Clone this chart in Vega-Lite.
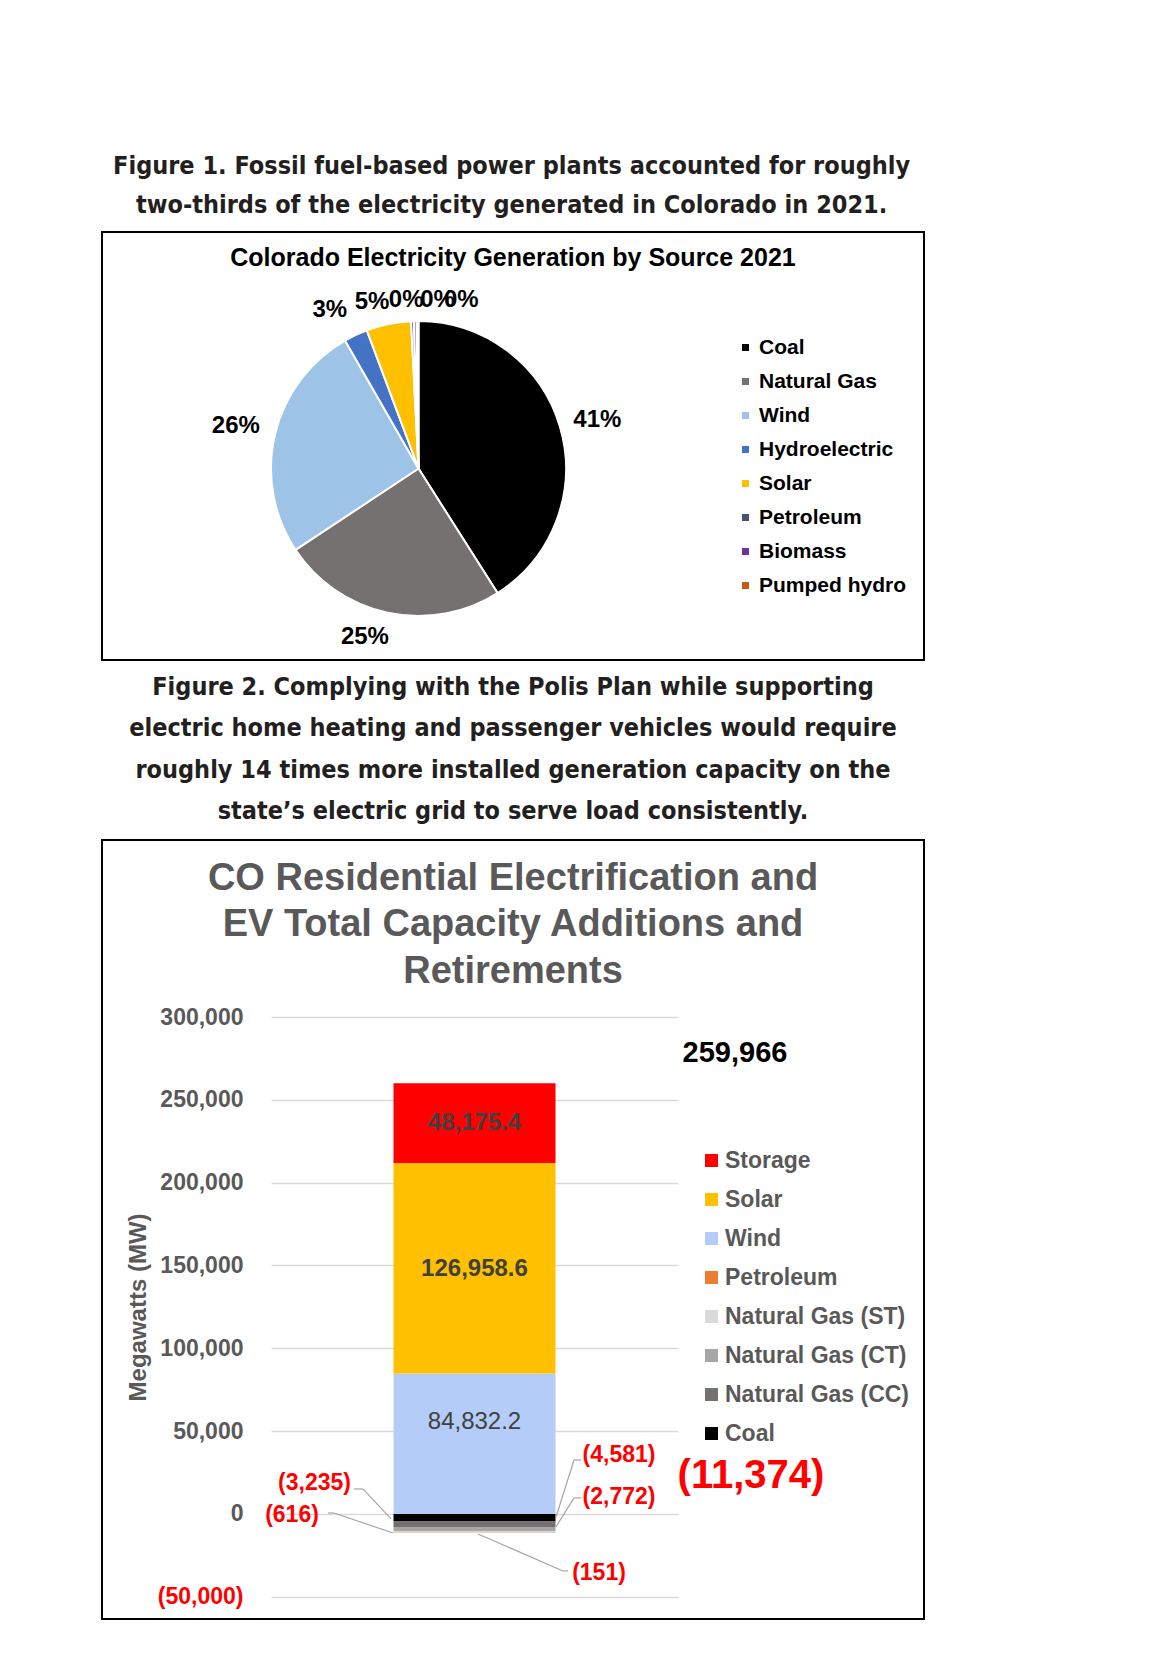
{
  "$schema": "https://vega.github.io/schema/vega-lite/v6.json",
  "padding": {"left": 98, "top": 153, "right": 20, "bottom": 10},
  "background": "#ffffff",
  "spacing": 5,
  "datasets": {
    "pie": [
      {"source": "Coal", "share": 0.41, "ord": 1},
      {"source": "Natural Gas", "share": 0.247, "ord": 2},
      {"source": "Wind", "share": 0.26, "ord": 3},
      {"source": "Hydroelectric", "share": 0.026, "ord": 4},
      {"source": "Solar", "share": 0.049, "ord": 5},
      {"source": "Petroleum", "share": 0.003, "ord": 6},
      {"source": "Biomass", "share": 0.003, "ord": 7},
      {"source": "Pumped hydro", "share": 0.002, "ord": 8}
    ],
    "bars": [
      {"category": "CO", "series": "Coal", "mw": -4581, "ord": 1},
      {"category": "CO", "series": "Natural Gas (CC)", "mw": -3235, "ord": 2},
      {"category": "CO", "series": "Natural Gas (CT)", "mw": -2772, "ord": 3},
      {"category": "CO", "series": "Natural Gas (ST)", "mw": -616, "ord": 4},
      {"category": "CO", "series": "Petroleum", "mw": -151, "ord": 5},
      {"category": "CO", "series": "Wind", "mw": 84832.2, "ord": 6},
      {"category": "CO", "series": "Solar", "mw": 126958.6, "ord": 7},
      {"category": "CO", "series": "Storage", "mw": 48175.4, "ord": 8}
    ],
    "totals": [
      {"category": "CO", "kind": "Additions", "mw": 259966},
      {"category": "CO", "kind": "Retirements", "mw": -11374}
    ]
  },
  "resolve": {"scale": {"color": "independent", "theta": "independent"}, "legend": {"color": "independent"}},
  "config": {
    "view": {"stroke": "#000000", "strokeWidth": 2},
    "font": "Liberation Sans",
    "axisY": {
      "labelExpr": "datum.value < 0 ? '(' + format(-datum.value, ',') + ')' : format(datum.value, ',')",
      "labelFont": "Liberation Sans", "labelFontSize": 23, "labelFontWeight": "bold",
      "ticks": false, "domain": false, "labelPadding": 0, "labelOverlap": false,
      "gridColor": "#D9D9D9", "gridWidth": 1.5,
      "titleFont": "Liberation Sans", "titleFontSize": 24, "titleFontWeight": "bold",
      "titleColor": "#595959", "titlePadding": 7
    }
  },
  "vconcat": [
    {
      "title": {
        "text": ["Figure 1. Fossil fuel-based power plants accounted for roughly", "two-thirds of the electricity generated in Colorado in 2021."],
        "font": "DejaVu Sans Condensed, DejaVu Sans, sans-serif", "fontSize": 25, "fontWeight": "bold", "color": "#231F20",
        "lineHeight": 39, "anchor": "middle", "frame": "bounds", "baseline": "top", "offset": 10.5
      },
      "vconcat": [
        {
          "width": 822,
          "height": 428,
          "view": {"stroke": "#000000", "strokeWidth": 2},
          "title": {
            "text": "Colorado Electricity Generation by Source 2021",
            "font": "Liberation Sans", "fontSize": 25, "fontWeight": "bold", "color": "#000000",
            "anchor": "middle", "frame": "group", "baseline": "top", "offset": -42
          },
          "data": {"name": "pie"},
          "layer": [
            {
              "mark": {"type": "point", "opacity": 0},
              "encoding": {
                "x": {"datum": 0, "type": "quantitative", "axis": null},
                "y": {"datum": 0, "type": "quantitative", "axis": null}
              }
            },
            {
              "mark": {"type": "arc", "x": 316.5, "y": 236.5, "outerRadius": 147.5, "stroke": "#ffffff", "strokeWidth": 2},
              "encoding": {
                "theta": {"field": "share", "type": "quantitative", "stack": true},
                "order": {"field": "ord", "type": "quantitative"},
                "color": {
                  "field": "source", "type": "nominal",
                  "scale": {
                    "domain": ["Coal", "Natural Gas", "Wind", "Hydroelectric", "Solar", "Petroleum", "Biomass", "Pumped hydro"],
                    "range": ["#000000", "#767171", "#9DC3E6", "#4472C4", "#FFC000", "#44546A", "#7030A0", "#C55A11"]
                  },
                  "legend": {
                    "orient": "none", "legendX": 633, "legendY": 105, "title": null,
                    "symbolType": "square", "symbolSize": 49, "symbolStrokeWidth": 0,
                    "labelFont": "Liberation Sans", "labelFontSize": 21, "labelFontWeight": "bold", "labelColor": "#000000",
                    "rowPadding": 12, "labelOffset": 3, "padding": 0
                  }
                }
              }
            },
            {
              "mark": {"type": "text", "x": 316.5, "y": 236.5, "radius": 180, "dx": 6, "dy": 2, "fontSize": 24, "fontWeight": "bold", "color": "#000000", "baseline": "middle", "align": "center"},
              "encoding": {
                "theta": {"field": "share", "type": "quantitative", "stack": true},
                "order": {"field": "ord", "type": "quantitative"},
                "text": {"condition": {"test": "datum.source === 'Coal'", "field": "share", "type": "quantitative", "format": ".0%"}, "value": ""}
              }
            },
            {
              "mark": {"type": "text", "x": 316.5, "y": 236.5, "radius": 180, "dx": -16, "dy": -7.5, "fontSize": 24, "fontWeight": "bold", "color": "#000000", "baseline": "middle", "align": "center"},
              "encoding": {
                "theta": {"field": "share", "type": "quantitative", "stack": true},
                "order": {"field": "ord", "type": "quantitative"},
                "text": {"condition": {"test": "datum.source === 'Natural Gas'", "field": "share", "type": "quantitative", "format": ".0%"}, "value": ""}
              }
            },
            {
              "mark": {"type": "text", "x": 316.5, "y": 236.5, "radius": 180, "dx": -7.5, "dy": -1.5, "fontSize": 24, "fontWeight": "bold", "color": "#000000", "baseline": "middle", "align": "center"},
              "encoding": {
                "theta": {"field": "share", "type": "quantitative", "stack": true},
                "order": {"field": "ord", "type": "quantitative"},
                "text": {"condition": {"test": "datum.source === 'Wind'", "field": "share", "type": "quantitative", "format": ".0%"}, "value": ""}
              }
            },
            {
              "mark": {"type": "text", "x": 316.5, "y": 236.5, "radius": 180, "dx": -12, "dy": 4.5, "fontSize": 24, "fontWeight": "bold", "color": "#000000", "baseline": "middle", "align": "center"},
              "encoding": {
                "theta": {"field": "share", "type": "quantitative", "stack": true},
                "order": {"field": "ord", "type": "quantitative"},
                "text": {"condition": {"test": "datum.source === 'Hydroelectric'", "field": "share", "type": "quantitative", "format": ".0%"}, "value": ""}
              }
            },
            {
              "mark": {"type": "text", "x": 316.5, "y": 236.5, "radius": 180, "dx": -10, "dy": 10, "fontSize": 24, "fontWeight": "bold", "color": "#000000", "baseline": "middle", "align": "center"},
              "encoding": {
                "theta": {"field": "share", "type": "quantitative", "stack": true},
                "order": {"field": "ord", "type": "quantitative"},
                "text": {"condition": {"test": "datum.source === 'Solar'", "field": "share", "type": "quantitative", "format": ".0%"}, "value": ""}
              }
            },
            {
              "mark": {"type": "text", "x": 316.5, "y": 236.5, "radius": 180, "dx": -5, "dy": 11, "fontSize": 24, "fontWeight": "bold", "color": "#000000", "baseline": "middle", "align": "center"},
              "encoding": {
                "theta": {"field": "share", "type": "quantitative", "stack": true},
                "order": {"field": "ord", "type": "quantitative"},
                "text": {"condition": {"test": "datum.source === 'Petroleum'", "field": "share", "type": "quantitative", "format": ".0%"}, "value": ""}
              }
            },
            {
              "mark": {"type": "text", "x": 316.5, "y": 236.5, "radius": 180, "dx": 23, "dy": 11, "fontSize": 24, "fontWeight": "bold", "color": "#000000", "baseline": "middle", "align": "center"},
              "encoding": {
                "theta": {"field": "share", "type": "quantitative", "stack": true},
                "order": {"field": "ord", "type": "quantitative"},
                "text": {"condition": {"test": "datum.source === 'Biomass'", "field": "share", "type": "quantitative", "format": ".0%"}, "value": ""}
              }
            },
            {
              "mark": {"type": "text", "x": 316.5, "y": 236.5, "radius": 180, "dx": 44, "dy": 11, "fontSize": 24, "fontWeight": "bold", "color": "#000000", "baseline": "middle", "align": "center"},
              "encoding": {
                "theta": {"field": "share", "type": "quantitative", "stack": true},
                "order": {"field": "ord", "type": "quantitative"},
                "text": {"condition": {"test": "datum.source === 'Pumped hydro'", "field": "share", "type": "quantitative", "format": ".0%"}, "value": ""}
              }
            }
          ]
        }
      ]
    },
    {
      "title": {
        "text": ["Figure 2. Complying with the Polis Plan while supporting", "electric home heating and passenger vehicles would require", "roughly 14 times more installed generation capacity on the", "state\u2019s electric grid to serve load consistently."],
        "font": "DejaVu Sans Condensed, DejaVu Sans, sans-serif", "fontSize": 25, "fontWeight": "bold", "color": "#231F20",
        "lineHeight": 41.5, "anchor": "middle", "frame": "bounds", "baseline": "top", "offset": 14.6
      },
      "vconcat": [
        {
          "width": 822,
          "height": 779,
          "title": {
            "text": ["CO Residential Electrification and", "EV Total Capacity Additions and", "Retirements"],
            "font": "Liberation Sans", "fontSize": 38, "fontWeight": "bold", "color": "#595959",
            "lineHeight": 46.5, "anchor": "middle", "frame": "group", "baseline": "top", "offset": -150.6
          },
          "data": {"name": "bars"},
          "resolve": {"axis": {"y": "independent"}},
          "layer": [
            {
              "mark": {"type": "bar"},
              "encoding": {
                "x": {"field": "category", "type": "nominal", "axis": null, "scale": {"range": [169, 576], "paddingInner": 0, "paddingOuter": 0.756}},
                "y": {
                  "field": "mw", "type": "quantitative", "stack": "zero",
                  "scale": {"domain": [-50000, 300000], "range": [756.8, 177], "nice": false, "zero": false},
                  "axis": {
                    "orient": "left", "values": [-50000, 0, 50000, 100000, 150000, 200000, 250000, 300000],
                    "grid": true, "labels": false, "ticks": false, "domain": false, "title": null, "offset": 0
                  }
                },
                "color": {
                  "field": "series", "type": "nominal",
                  "scale": {
                    "domain": ["Storage", "Solar", "Wind", "Petroleum", "Natural Gas (ST)", "Natural Gas (CT)", "Natural Gas (CC)", "Coal"],
                    "range": ["#FF0000", "#FFC000", "#B4CDF8", "#ED7D31", "#D9D9D9", "#A6A6A6", "#767171", "#000000"]
                  },
                  "legend": {
                    "orient": "none", "legendX": 598, "legendY": 309, "title": null,
                    "symbolType": "square", "symbolSize": 169, "symbolStrokeWidth": 0,
                    "labelFont": "Liberation Sans", "labelFontSize": 23, "labelFontWeight": "bold", "labelColor": "#595959",
                    "labelLimit": 300, "rowPadding": 15, "labelOffset": 2, "padding": 0
                  }
                },
                "order": {"field": "ord", "type": "quantitative"}
              }
            },
            {
              "transform": [
                {"stack": "mw", "groupby": ["category"], "sort": [{"field": "ord", "order": "ascending"}], "as": ["y0", "y1"]},
                {"filter": "datum.series === 'Storage'"}
              ],
              "mark": {"type": "text", "dy": 40, "fontSize": 24, "fontWeight": "bold", "color": "#404040", "baseline": "middle", "align": "center"},
              "encoding": {
                "x": {"field": "category", "type": "nominal", "axis": null, "scale": {"range": [169, 576], "paddingInner": 0, "paddingOuter": 0.756}},
                "y": {
                  "field": "y1", "type": "quantitative",
                  "scale": {"domain": [-50000, 300000], "range": [756.8, 177], "nice": false, "zero": false},
                  "axis": {
                    "orient": "left", "values": [-50000, 0, 50000, 100000, 150000, 200000, 250000, 300000],
                    "grid": false, "offset": -141, "title": "Megawatts (MW)",
                    "labelColor": {"condition": {"test": "datum.value < 0", "value": "#FF0000"}, "value": "#595959"}
                  }
                },
                "text": {"field": "mw", "type": "quantitative", "format": ",.1f"}
              }
            },
            {
              "transform": [
                {"stack": "mw", "groupby": ["category"], "sort": [{"field": "ord", "order": "ascending"}], "as": ["y0", "y1"]},
                {"filter": "datum.series === 'Solar'"}
              ],
              "mark": {"type": "text", "dy": 106, "fontSize": 24, "fontWeight": "bold", "color": "#404040", "baseline": "middle", "align": "center"},
              "encoding": {
                "x": {"field": "category", "type": "nominal", "axis": null, "scale": {"range": [169, 576], "paddingInner": 0, "paddingOuter": 0.756}},
                "y": {"field": "y1", "type": "quantitative", "axis": null, "scale": {"domain": [-50000, 300000], "range": [756.8, 177], "nice": false, "zero": false}},
                "text": {"field": "mw", "type": "quantitative", "format": ",.1f"}
              }
            },
            {
              "transform": [
                {"stack": "mw", "groupby": ["category"], "sort": [{"field": "ord", "order": "ascending"}], "as": ["y0", "y1"]},
                {"filter": "datum.series === 'Wind'"}
              ],
              "mark": {"type": "text", "dy": 49, "fontSize": 24, "fontWeight": "normal", "color": "#404040", "baseline": "middle", "align": "center"},
              "encoding": {
                "x": {"field": "category", "type": "nominal", "axis": null, "scale": {"range": [169, 576], "paddingInner": 0, "paddingOuter": 0.756}},
                "y": {"field": "y1", "type": "quantitative", "axis": null, "scale": {"domain": [-50000, 300000], "range": [756.8, 177], "nice": false, "zero": false}},
                "text": {"field": "mw", "type": "quantitative", "format": ",.1f"}
              }
            },
            {
              "transform": [
                {"stack": "mw", "groupby": ["category"], "sort": [{"field": "ord", "order": "ascending"}], "as": ["y0", "y1"]},
                {"filter": "datum.series === 'Coal'"}
              ],
              "encoding": {
                "x": {"field": "category", "type": "nominal", "axis": null, "bandPosition": 0.5, "scale": {"range": [169, 576], "paddingInner": 0, "paddingOuter": 0.756}},
                "x2": {"field": "category", "bandPosition": 0.5},
                "y": {"field": "y0", "type": "quantitative", "axis": null, "scale": {"domain": [-50000, 300000], "range": [756.8, 177], "nice": false, "zero": false}},
                "y2": {"field": "y0"}
              },
              "layer": [
                {"mark": {"type": "text", "dx": 144.5, "dy": -59, "fontSize": 23, "fontWeight": "bold", "color": "#FF0000", "baseline": "middle", "align": "center"},
                 "encoding": {"x2": null, "y2": null, "text": {"field": "mw", "type": "quantitative", "format": "(,.0f"}}},
                {"mark": {"type": "rule", "color": "#A6A6A6", "strokeWidth": 1.2, "xOffset": 106.5, "yOffset": -54, "x2Offset": 99.5, "y2Offset": -54}},
                {"mark": {"type": "rule", "color": "#A6A6A6", "strokeWidth": 1.2, "xOffset": 99.5, "yOffset": -54, "x2Offset": 81.5, "y2Offset": 3}}
              ]
            },
            {
              "transform": [
                {"stack": "mw", "groupby": ["category"], "sort": [{"field": "ord", "order": "ascending"}], "as": ["y0", "y1"]},
                {"filter": "datum.series === 'Natural Gas (CC)'"}
              ],
              "encoding": {
                "x": {"field": "category", "type": "nominal", "axis": null, "bandPosition": 0.5, "scale": {"range": [169, 576], "paddingInner": 0, "paddingOuter": 0.756}},
                "x2": {"field": "category", "bandPosition": 0.5},
                "y": {"field": "y0", "type": "quantitative", "axis": null, "scale": {"domain": [-50000, 300000], "range": [756.8, 177], "nice": false, "zero": false}},
                "y2": {"field": "y0"}
              },
              "layer": [
                {"mark": {"type": "text", "dx": -160, "dy": -38.6, "fontSize": 23, "fontWeight": "bold", "color": "#FF0000", "baseline": "middle", "align": "center"},
                 "encoding": {"x2": null, "y2": null, "text": {"field": "mw", "type": "quantitative", "format": "(,.0f"}}},
                {"mark": {"type": "rule", "color": "#A6A6A6", "strokeWidth": 1.2, "xOffset": -120.5, "yOffset": -32.6, "x2Offset": -111.5, "y2Offset": -32.6}},
                {"mark": {"type": "rule", "color": "#A6A6A6", "strokeWidth": 1.2, "xOffset": -111.5, "yOffset": -32.6, "x2Offset": -83.5, "y2Offset": -2.6}}
              ]
            },
            {
              "transform": [
                {"stack": "mw", "groupby": ["category"], "sort": [{"field": "ord", "order": "ascending"}], "as": ["y0", "y1"]},
                {"filter": "datum.series === 'Natural Gas (CT)'"}
              ],
              "encoding": {
                "x": {"field": "category", "type": "nominal", "axis": null, "bandPosition": 0.5, "scale": {"range": [169, 576], "paddingInner": 0, "paddingOuter": 0.756}},
                "x2": {"field": "category", "bandPosition": 0.5},
                "y": {"field": "y0", "type": "quantitative", "axis": null, "scale": {"domain": [-50000, 300000], "range": [756.8, 177], "nice": false, "zero": false}},
                "y2": {"field": "y0"}
              },
              "layer": [
                {"mark": {"type": "text", "dx": 144.5, "dy": -30, "fontSize": 23, "fontWeight": "bold", "color": "#FF0000", "baseline": "middle", "align": "center"},
                 "encoding": {"x2": null, "y2": null, "text": {"field": "mw", "type": "quantitative", "format": "(,.0f"}}},
                {"mark": {"type": "rule", "color": "#A6A6A6", "strokeWidth": 1.2, "xOffset": 106.5, "yOffset": -29, "x2Offset": 99.5, "y2Offset": -29}},
                {"mark": {"type": "rule", "color": "#A6A6A6", "strokeWidth": 1.2, "xOffset": 99.5, "yOffset": -29, "x2Offset": 81.5, "y2Offset": 0}}
              ]
            },
            {
              "transform": [
                {"stack": "mw", "groupby": ["category"], "sort": [{"field": "ord", "order": "ascending"}], "as": ["y0", "y1"]},
                {"filter": "datum.series === 'Natural Gas (ST)'"}
              ],
              "encoding": {
                "x": {"field": "category", "type": "nominal", "axis": null, "bandPosition": 0.5, "scale": {"range": [169, 576], "paddingInner": 0, "paddingOuter": 0.756}},
                "x2": {"field": "category", "bandPosition": 0.5},
                "y": {"field": "y0", "type": "quantitative", "axis": null, "scale": {"domain": [-50000, 300000], "range": [756.8, 177], "nice": false, "zero": false}},
                "y2": {"field": "y0"}
              },
              "layer": [
                {"mark": {"type": "text", "dx": -182.5, "dy": -16.5, "fontSize": 23, "fontWeight": "bold", "color": "#FF0000", "baseline": "middle", "align": "center"},
                 "encoding": {"x2": null, "y2": null, "text": {"field": "mw", "type": "quantitative", "format": "(,.0f"}}},
                {"mark": {"type": "rule", "color": "#A6A6A6", "strokeWidth": 1.2, "xOffset": -146.5, "yOffset": -18.5, "x2Offset": -140.5, "y2Offset": -18.5}},
                {"mark": {"type": "rule", "color": "#A6A6A6", "strokeWidth": 1.2, "xOffset": -140.5, "yOffset": -18.5, "x2Offset": -81.5, "y2Offset": 1.5}}
              ]
            },
            {
              "transform": [
                {"stack": "mw", "groupby": ["category"], "sort": [{"field": "ord", "order": "ascending"}], "as": ["y0", "y1"]},
                {"filter": "datum.series === 'Petroleum'"}
              ],
              "encoding": {
                "x": {"field": "category", "type": "nominal", "axis": null, "bandPosition": 0.5, "scale": {"range": [169, 576], "paddingInner": 0, "paddingOuter": 0.756}},
                "x2": {"field": "category", "bandPosition": 0.5},
                "y": {"field": "y0", "type": "quantitative", "axis": null, "scale": {"domain": [-50000, 300000], "range": [756.8, 177], "nice": false, "zero": false}},
                "y2": {"field": "y0"}
              },
              "layer": [
                {"mark": {"type": "text", "dx": 124.5, "dy": 40.4, "fontSize": 23, "fontWeight": "bold", "color": "#FF0000", "baseline": "middle", "align": "center"},
                 "encoding": {"x2": null, "y2": null, "text": {"field": "mw", "type": "quantitative", "format": "(,.0f"}}},
                {"mark": {"type": "rule", "color": "#A6A6A6", "strokeWidth": 1.2, "xOffset": 93.5, "yOffset": 38.4, "x2Offset": 88.5, "y2Offset": 38.4}},
                {"mark": {"type": "rule", "color": "#A6A6A6", "strokeWidth": 1.2, "xOffset": 88.5, "yOffset": 38.4, "x2Offset": 3.5, "y2Offset": 1.4}}
              ]
            },
            {
              "data": {"name": "totals"},
              "transform": [{"filter": "datum.kind === 'Additions'"}],
              "mark": {"type": "text", "dx": 260.5, "dy": -30, "fontSize": 29, "fontWeight": "bold", "color": "#000000", "baseline": "middle", "align": "center"},
              "encoding": {
                "x": {"field": "category", "type": "nominal", "axis": null, "scale": {"range": [169, 576], "paddingInner": 0, "paddingOuter": 0.756}},
                "y": {"field": "mw", "type": "quantitative", "axis": null, "scale": {"domain": [-50000, 300000], "range": [756.8, 177], "nice": false, "zero": false}},
                "text": {"field": "mw", "type": "quantitative", "format": ",.0f"}
              }
            },
            {
              "data": {"name": "totals"},
              "transform": [{"filter": "datum.kind === 'Retirements'"}],
              "mark": {"type": "text", "dx": 276.5, "dy": -57, "fontSize": 40, "fontWeight": "bold", "color": "#FF0000", "baseline": "middle", "align": "center"},
              "encoding": {
                "x": {"field": "category", "type": "nominal", "axis": null, "scale": {"range": [169, 576], "paddingInner": 0, "paddingOuter": 0.756}},
                "y": {"field": "mw", "type": "quantitative", "axis": null, "scale": {"domain": [-50000, 300000], "range": [756.8, 177], "nice": false, "zero": false}},
                "text": {"field": "mw", "type": "quantitative", "format": "(,.0f"}
              }
            }
          ]
        }
      ]
    }
  ]
}
